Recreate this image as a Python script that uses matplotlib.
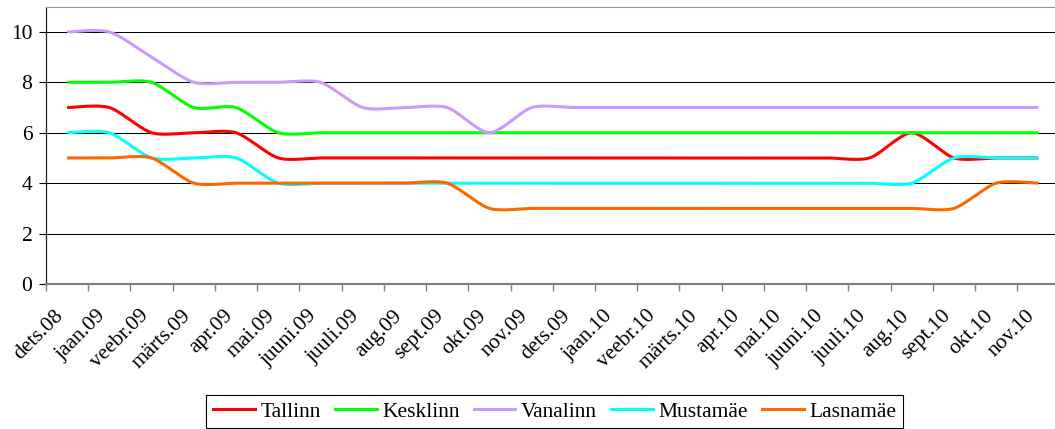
import numpy as np
import matplotlib
matplotlib.use("Agg")
import matplotlib.pyplot as plt
from matplotlib.lines import Line2D
from matplotlib.transforms import ScaledTranslation

plt.rcParams['font.family'] = ['Liberation Serif', 'DejaVu Serif']

months = ["dets.08", "jaan.09", "veebr.09", "märts.09", "apr.09", "mai.09",
          "juuni.09", "juuli.09", "aug.09", "sept.09", "okt.09", "nov.09",
          "dets.09", "jaan.10", "veebr.10", "märts.10", "apr.10", "mai.10",
          "juuni.10", "juuli.10", "aug.10", "sept.10", "okt.10", "nov.10"]

tallinn = [7, 7, 6, 6, 6, 5, 5, 5, 5, 5, 5, 5, 5, 5, 5, 5, 5, 5, 5, 5, 6, 5, 5, 5]
kesklinn = [8, 8, 8, 7, 7, 6, 6, 6, 6, 6, 6, 6, 6, 6, 6, 6, 6, 6, 6, 6, 6, 6, 6, 6]
vanalinn = [10, 10, 9, 8, 8, 8, 8, 7, 7, 7, 6, 7, 7, 7, 7, 7, 7, 7, 7, 7, 7, 7, 7, 7]
mustamae = [6, 6, 5, 5, 5, 4, 4, 4, 4, 4, 4, 4, 4, 4, 4, 4, 4, 4, 4, 4, 4, 5, 5, 5]
lasnamae = [5, 5, 5, 4, 4, 4, 4, 4, 4, 4, 3, 3, 3, 3, 3, 3, 3, 3, 3, 3, 3, 3, 4, 4]

series_names = ["Tallinn", "Kesklinn", "Vanalinn", "Mustamäe", "Lasnamäe"]
series_values = [tallinn, kesklinn, vanalinn, mustamae, lasnamae]
colors = ["#FF0000", "#00FF00", "#CC99FF", "#00FFFF", "#FF6600"]


def smooth(xs, ys, k=0.13, n=30):
    """Excel-like smoothed line: cubic Bezier segments with Catmull-Rom style control points."""
    xs = np.asarray(xs, float)
    ys = np.asarray(ys, float)
    m = len(xs)
    px = np.concatenate([[xs[0]], xs, [xs[-1]]])
    py = np.concatenate([[ys[0]], ys, [ys[-1]]])
    outx, outy = [], []
    t = np.linspace(0, 1, n)
    for i in range(m - 1):
        x0, y0 = px[i + 1], py[i + 1]
        x3, y3 = px[i + 2], py[i + 2]
        x1 = x0 + (px[i + 2] - px[i]) * k
        y1 = y0 + (py[i + 2] - py[i]) * k
        x2 = x3 - (px[i + 3] - px[i + 1]) * k
        y2 = y3 - (py[i + 3] - py[i + 1]) * k
        b0 = (1 - t) ** 3
        b1 = 3 * (1 - t) ** 2 * t
        b2 = 3 * (1 - t) * t ** 2
        b3 = t ** 3
        bx = b0 * x0 + b1 * x1 + b2 * x2 + b3 * x3
        by = b0 * y0 + b1 * y1 + b2 * y2 + b3 * y3
        if i > 0:
            bx, by = bx[1:], by[1:]
        outx.append(bx)
        outy.append(by)
    return np.concatenate(outx), np.concatenate(outy)


W, H = 1055, 429
fig = plt.figure(figsize=(W / 100, H / 100), dpi=100)
left, right, top, bottom = 46, 1059.6, 6.7, 284
ax = fig.add_axes([left / W, (H - bottom) / H, (right - left) / W, (bottom - top) / H])

x = np.arange(len(months))
FS = 15.5
lw_line = 2.2
for name, vals, c in zip(series_names, series_values, colors):
    sx, sy = smooth(x, vals)
    ax.plot(sx, sy, color=c, lw=lw_line, solid_capstyle='butt', label=name, zorder=3)

ax.set_xlim(-0.5, len(months) - 0.5)
ax.set_ylim(0, 11)

# y axis
ax.set_yticks(np.arange(0, 11, 2))
ax.tick_params(axis='y', which='major', direction='out', length=4.8, width=0.8,
               color='black', labelsize=FS, pad=5.0)
ax.yaxis.grid(True, color='black', lw=0.75, zorder=1)
ax.set_axisbelow(True)

# x axis: labels at category centres, tick marks at boundaries
ax.set_xticks(x)
ax.set_xticklabels(months, rotation=45, ha='right', va='center', rotation_mode='anchor')
ax.set_xticks(np.arange(-0.5, len(months), 1.0), minor=True)
ax.tick_params(axis='x', which='major', length=0, labelsize=FS, pad=21)
ax.tick_params(axis='x', which='minor', direction='out', length=4.8, width=1.0, color='#808080')
for lab in ax.get_xticklabels():
    lab.set_transform(lab.get_transform() + ScaledTranslation(-6 / 100, 0, fig.dpi_scale_trans))

for s in ['top', 'right']:
    ax.spines[s].set_color('#999999')
    ax.spines[s].set_linewidth(0.8)
ax.spines['left'].set_color('#222222')
ax.spines['left'].set_linewidth(0.9)
ax.spines['bottom'].set_color('#808080')
ax.spines['bottom'].set_linewidth(1.6)

handles = [Line2D([0], [0], color=c, lw=lw_line) for c in colors]
leg = fig.legend(handles, series_names, loc='lower center',
                 bbox_to_anchor=(554.5 / W, 1 / H), ncol=5, frameon=True,
                 fancybox=False, edgecolor='black', framealpha=1,
                 handlelength=1.95, handletextpad=0.25, columnspacing=0.65,
                 borderpad=0.3, borderaxespad=0, prop={'size': FS})
leg.get_frame().set_linewidth(0.8)

fig.savefig("out.png", dpi=100)
